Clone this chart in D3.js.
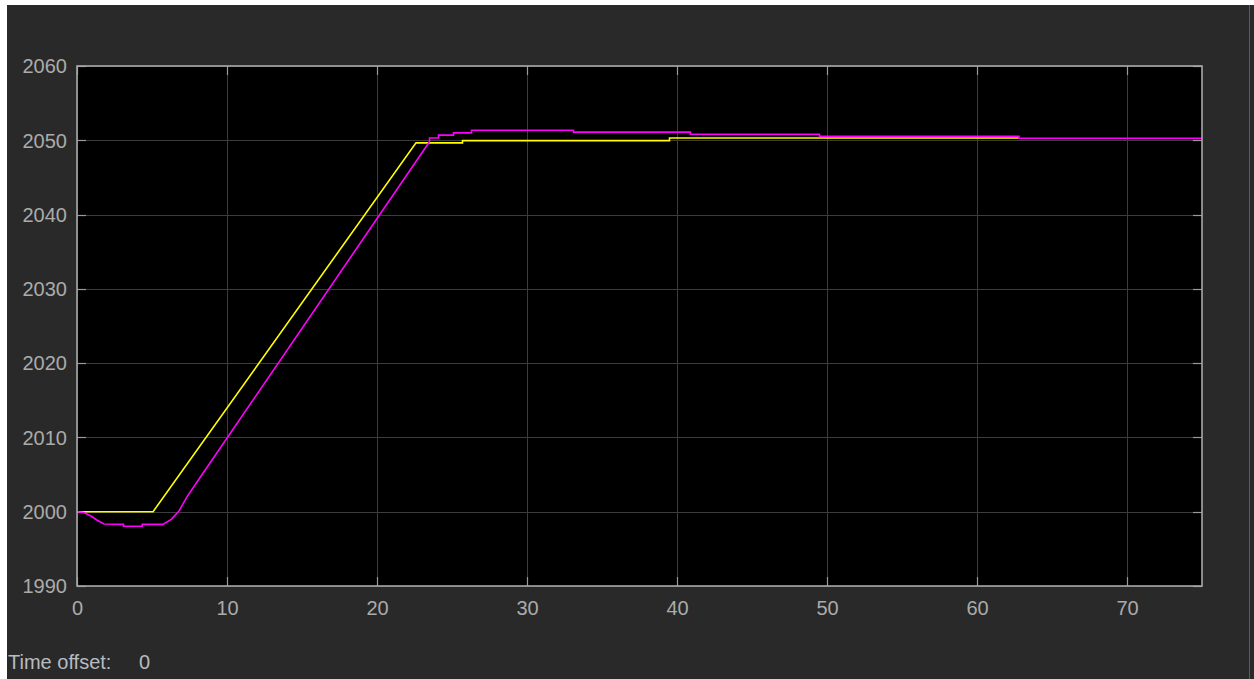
<!DOCTYPE html>
<html>
<head>
<meta charset="utf-8">
<script src="https://cdn.jsdelivr.net/npm/d3@7"></script>
<style>
  html, body { margin: 0; padding: 0; background: #ffffff; }
  svg { display: block; }
  text { font-family: "Liberation Sans", Arial, sans-serif; }
</style>
</head>
<body>
<svg id="chart" width="1254" height="679"></svg>
<script>
// ---- data ----
const xTicks = [0, 10, 20, 30, 40, 50, 60, 70];
const yTicks = [1990, 2000, 2010, 2020, 2030, 2040, 2050, 2060];
const xDomain = [0, 75];
const yDomain = [1990, 2060];

// yellow series (reference / setpoint)
const yellowT = [0, 5.07, 22.6, 25.7, 25.7, 39.5, 39.5, 62.8];
const yellowV = [2000, 2000, 2049.65, 2049.65, 2049.95, 2049.95, 2050.3, 2050.3];

// magenta series (response)
const magentaT = [0, 0.45, 0.9, 1.35, 1.8, 3.1, 3.1, 4.35, 4.35, 5.73, 6.3, 6.8, 7.33, 8.0,
                  23.5, 23.5, 24.1, 24.1, 25.1, 25.1, 26.3, 26.3, 33.1, 33.1, 40.9, 40.9,
                  49.5, 49.5, 62.8, 62.8, 75];
const magentaV = [2000, 1999.9, 1999.45, 1998.85, 1998.35, 1998.3, 1998.05, 1998.05, 1998.3, 1998.3,
                  1999.0, 2000.1, 2002.0, 2004.0,
                  2049.8, 2050.3, 2050.3, 2050.7, 2050.7, 2051.0, 2051.0, 2051.35, 2051.35, 2051.1,
                  2051.1, 2050.82, 2050.82, 2050.53, 2050.53, 2050.28, 2050.28];

const timeOffsetLabel = "Time offset:";
const timeOffsetValue = "0";

// ---- layout ----
const W = 1254, H = 679;
const plot = { left: 77, right: 1202, top: 66, bottom: 586 };

const svg = d3.select("#chart");

// outer panel
svg.append("rect").attr("x", 7).attr("y", 5).attr("width", W - 7).attr("height", H - 5)
  .attr("fill", "#292929");
svg.append("line").attr("x1", 1249.5).attr("x2", 1249.5).attr("y1", 5).attr("y2", H)
  .attr("stroke", "#5a5a5a").attr("stroke-width", 1);

const x = d3.scaleLinear().domain(xDomain).range([plot.left, plot.right]);
const y = d3.scaleLinear().domain(yDomain).range([plot.bottom, plot.top]);

// plot background
svg.append("rect").attr("x", plot.left).attr("y", plot.top)
  .attr("width", plot.right - plot.left).attr("height", plot.bottom - plot.top)
  .attr("fill", "#000000");

// grid
const grid = svg.append("g").attr("stroke", "#3c3c3c").attr("stroke-width", 1);
xTicks.forEach(t => {
  const px = Math.round(x(t)) + 0.5;
  grid.append("line").attr("x1", px).attr("x2", px).attr("y1", plot.top).attr("y2", plot.bottom);
});
yTicks.forEach(t => {
  const py = Math.round(y(t)) + 0.5;
  grid.append("line").attr("x1", plot.left).attr("x2", plot.right).attr("y1", py).attr("y2", py);
});

// inner tick marks
const tk = svg.append("g").attr("stroke", "#9a9a9a").attr("stroke-width", 1.2);
xTicks.forEach(t => {
  const px = Math.round(x(t)) + 0.5;
  tk.append("line").attr("x1", px).attr("x2", px).attr("y1", plot.bottom).attr("y2", plot.bottom - 9);
  tk.append("line").attr("x1", px).attr("x2", px).attr("y1", plot.top).attr("y2", plot.top + 9);
});
yTicks.forEach(t => {
  const py = Math.round(y(t)) + 0.5;
  tk.append("line").attr("x1", plot.left).attr("x2", plot.left + 9).attr("y1", py).attr("y2", py);
  tk.append("line").attr("x1", plot.right).attr("x2", plot.right - 9).attr("y1", py).attr("y2", py);
});

// series
const line = d3.line().x(d => x(d[0])).y(d => y(d[1]));
const yellowData = yellowT.map((t, i) => [t, yellowV[i]]);
const magentaData = magentaT.map((t, i) => [t, magentaV[i]]);

svg.append("path").datum(yellowData).attr("d", line)
  .attr("fill", "none").attr("stroke", "#ffff00").attr("stroke-width", 1.6);
svg.append("path").datum(magentaData).attr("d", line)
  .attr("fill", "none").attr("stroke", "#ff00ff").attr("stroke-width", 1.6);

// box
svg.append("rect").attr("x", plot.left).attr("y", plot.top)
  .attr("width", plot.right - plot.left).attr("height", plot.bottom - plot.top)
  .attr("fill", "none").attr("stroke", "#a8a8a8").attr("stroke-width", 1.6);

// axes labels
const xAxis = d3.axisBottom(x).tickValues(xTicks).tickSize(0).tickPadding(15)
  .tickFormat(d3.format("d"));
const gx = svg.append("g").attr("transform", `translate(0,${plot.bottom})`).call(xAxis);
const yAxis = d3.axisLeft(y).tickValues(yTicks).tickSize(0).tickPadding(10)
  .tickFormat(d3.format("d"));
const gy = svg.append("g").attr("transform", `translate(${plot.left},0)`).call(yAxis);

[gx, gy].forEach(g => {
  g.select(".domain").remove();
  g.selectAll("text").attr("fill", "#ababab").style("font-size", "20px")
    .style("font-family", '"Liberation Sans", Arial, sans-serif');
});
gy.selectAll("text").attr("dy", "0.34em");

// time offset
const to = svg.append("text").attr("x", 8).attr("y", 669)
  .attr("fill", "#b8bcc0").style("font-size", "20px");
to.append("tspan").text(timeOffsetLabel);
to.append("tspan").attr("x", 139).text(timeOffsetValue);
</script>
</body>
</html>
